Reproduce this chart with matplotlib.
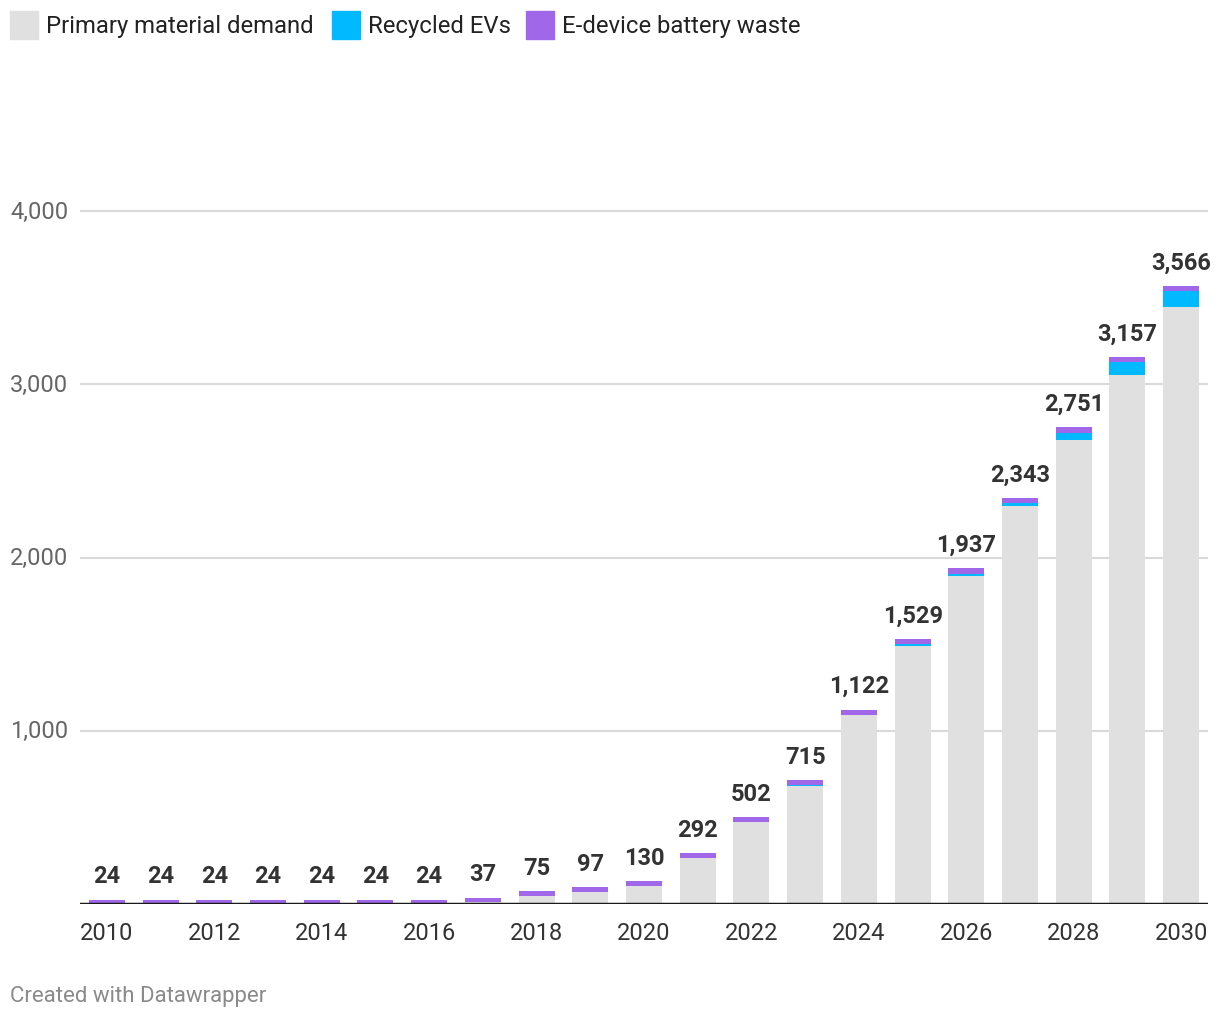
import matplotlib.pyplot as plt
from matplotlib.patches import Rectangle
from matplotlib.transforms import blended_transform_factory
import numpy as np

plt.rcParams['font.family'] = ['Roboto', 'DejaVu Sans']

# data
years = list(range(2010, 2031))
totals = [24, 24, 24, 24, 24, 24, 24, 37, 75, 97, 130, 292, 502, 715,
          1122, 1529, 1937, 2343, 2751, 3157, 3566]
recycled_evs = [0, 0, 0, 0, 0, 0, 0, 0, 0, 0, 0, 0, 0, 5,
                2, 8, 12, 17, 40, 73, 90]
edevice_waste = [24, 24, 24, 24, 24, 24, 24, 25, 26, 27, 28, 28, 29, 29,
                 30, 30, 30, 30, 30, 30, 30]
series_names = ["Primary material demand", "Recycled EVs", "E-device battery waste"]
series_colors = ["#e0e0e0", "#00b9ff", "#a067e9"]
yticks = [1000, 2000, 3000, 4000]
xtick_years = list(range(2010, 2031, 2))

totals = np.array(totals)
recycled = np.array(recycled_evs)
edevice = np.array(edevice_waste)
primary = totals - recycled - edevice

W, H = 1220, 1020
fig = plt.figure(figsize=(W / 100, H / 100), dpi=100)

# axes placed in pixel terms
left, right, base, top = 80, 1208, 905, 125
ax = fig.add_axes([left / W, (H - base) / H, (right - left) / W, (base - top) / H])
ymax = (base - top) / 173.25 * 1000
ax.set_ylim(0, ymax)
ax.set_xlim(2009.5, 2030.5)

bw = 0.67
ax.bar(years, primary, width=bw, color=series_colors[0], zorder=2)
ax.bar(years, recycled, width=bw, bottom=primary, color=series_colors[1], zorder=2)
ax.bar(years, edevice, width=bw, bottom=primary + recycled, color=series_colors[2], zorder=2)

for y in yticks:
    ax.axhline(y, color="#d9d9d9", lw=1.5, zorder=1)
ax.axhline(0, color="#1a1a1a", lw=2.5, zorder=3)

trans = blended_transform_factory(fig.transFigure, ax.transData)
for y in yticks:
    fig.text(10 / W, y, f"{y:,}", transform=trans, fontsize=17, color="#666666",
             va="center", ha="left")

for yr, t in zip(years, totals):
    ax.annotate(f"{t:,}", (yr, t), xytext=(0, 9), textcoords="offset points",
                ha="center", va="bottom", fontsize=17, fontweight="bold",
                color="#333333", zorder=4)

ax.set_xticks(xtick_years)
ax.set_xticklabels([str(y) for y in xtick_years], fontsize=17, color="#333333")
ax.tick_params(axis="x", length=0, pad=12)
ax.set_yticks([])
for s in ax.spines.values():
    s.set_visible(False)

# legend across the top
lx = [10, 332, 526]
for x0, name, col in zip(lx, series_names, series_colors):
    fig.patches.append(Rectangle((x0 / W, 1 - 40 / H), 28 / W, 28 / H,
                                 transform=fig.transFigure, color=col))
    fig.text((x0 + 36) / W, 1 - 26 / H, name, fontsize=17.2, color="#222222",
             va="center", ha="left")

fig.text(10 / W, 1 - 997 / H, "Created with Datawrapper", fontsize=16,
         color="#8a8a8a", va="center", ha="left")

fig.savefig("out.png", dpi=100)
